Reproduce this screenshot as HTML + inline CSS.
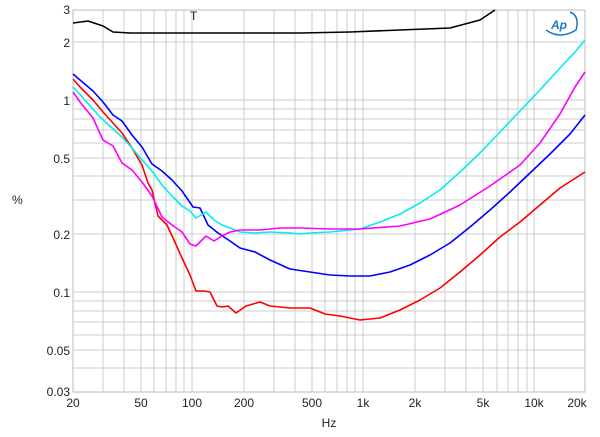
<!DOCTYPE html>
<html><head><style>body{margin:0;background:#fff}svg{display:block}text{font-family:"Liberation Sans",sans-serif;font-size:12px;fill:#222}</style></head><body>
<svg width="600" height="437" viewBox="0 0 600 437">
<rect x="73" y="10" width="512" height="382" fill="#fff" stroke="#bbb"/>
<g stroke="#ccc" stroke-width="1">
<line x1="103" y1="10" x2="103" y2="392"/><line x1="124" y1="10" x2="124" y2="392"/><line x1="141" y1="10" x2="141" y2="392"/><line x1="154" y1="10" x2="154" y2="392"/><line x1="166" y1="10" x2="166" y2="392"/><line x1="176" y1="10" x2="176" y2="392"/><line x1="184" y1="10" x2="184" y2="392"/><line x1="192" y1="10" x2="192" y2="392"/>
<line x1="244" y1="10" x2="244" y2="392"/><line x1="274" y1="10" x2="274" y2="392"/><line x1="295" y1="10" x2="295" y2="392"/><line x1="312" y1="10" x2="312" y2="392"/><line x1="325" y1="10" x2="325" y2="392"/><line x1="337" y1="10" x2="337" y2="392"/><line x1="347" y1="10" x2="347" y2="392"/><line x1="355" y1="10" x2="355" y2="392"/><line x1="363" y1="10" x2="363" y2="392"/>
<line x1="415" y1="10" x2="415" y2="392"/><line x1="445" y1="10" x2="445" y2="392"/><line x1="466" y1="10" x2="466" y2="392"/><line x1="483" y1="10" x2="483" y2="392"/><line x1="497" y1="10" x2="497" y2="392"/><line x1="508" y1="10" x2="508" y2="392"/><line x1="518" y1="10" x2="518" y2="392"/><line x1="527" y1="10" x2="527" y2="392"/><line x1="534" y1="10" x2="534" y2="392"/>
<line x1="73" y1="42" x2="585" y2="42"/><line x1="73" y1="100" x2="585" y2="100"/><line x1="73" y1="109" x2="585" y2="109"/><line x1="73" y1="119" x2="585" y2="119"/><line x1="73" y1="130" x2="585" y2="130"/><line x1="73" y1="143" x2="585" y2="143"/><line x1="73" y1="158" x2="585" y2="158"/><line x1="73" y1="176" x2="585" y2="176"/><line x1="73" y1="200" x2="585" y2="200"/><line x1="73" y1="234" x2="585" y2="234"/><line x1="73" y1="292" x2="585" y2="292"/><line x1="73" y1="301" x2="585" y2="301"/><line x1="73" y1="311" x2="585" y2="311"/><line x1="73" y1="322" x2="585" y2="322"/><line x1="73" y1="335" x2="585" y2="335"/><line x1="73" y1="350" x2="585" y2="350"/><line x1="73" y1="368" x2="585" y2="368"/>
</g>
<g fill="none" stroke-width="1.6" stroke-linejoin="round">
<polyline stroke="#000" points="73,23 88,21 103,26 113,32 130,33 200,33 300,33 350,32 400,30 450,28 480,20 495,10"/>
<polyline stroke="#00f" points="73,74 80,80 93,91 103,102 113,115 122,121 132,135 142,147 152,164 162,171 172,180 182,191 193,207 200,208 208,225 218,233 230,241 240,248 255,252 270,260 290,269 310,272 330,275 350,276 370,276 390,272 410,265 430,255 450,243 470,227 490,210 510,192 530,173 550,154 570,134 585,115"/>
<polyline stroke="#f00" points="73,79 80,87 93,100 103,112 113,123 122,133 132,148 142,165 148,183 152,190 158,216 167,225 174,240 182,258 190,275 196,291 204,291 210,292 217,306 222,307 228,306 236,313 246,306 260,302 270,306 290,308 310,308 325,314 340,316 360,320 380,318 400,310 420,300 440,288 460,272 480,255 500,237 520,222 540,205 560,188 585,172"/>
<polyline stroke="#0ee" points="73,87 85,100 100,117 112,128 122,137 132,148 142,160 152,171 162,185 172,196 182,206 190,211 196,218 206,212 214,220 222,225 230,228 240,232 255,233 270,232 290,233 300,234 310,233 330,232 360,229 380,222 400,214 420,203 440,190 460,172 480,153 500,132 520,111 540,90 560,68 575,52 585,40"/>
<polyline stroke="#f0f" points="73,92 80,102 93,118 103,140 113,146 122,163 132,170 142,182 152,196 162,217 172,225 182,232 190,244 196,246 206,236 214,241 222,236 230,232 240,230 260,230 280,228 300,228 330,229 360,229 400,226 430,219 460,205 490,186 520,165 540,143 560,114 575,87 585,72"/>
</g>
<text x="190" y="20" font-size="11">T</text>
<text x="551" y="29" font-size="17" font-style="italic" font-weight="bold" style="fill:#1a78c2">Ap</text>
<path d="M546,30 Q560,40 576,30 Q580,16 570,12" fill="none" stroke="#1a78c2" stroke-width="1.5"/>
<g text-anchor="end">
<text x="70" y="14">3</text><text x="70" y="47">2</text><text x="70" y="105">1</text><text x="70" y="163">0.5</text><text x="70" y="239">0.2</text><text x="70" y="297">0.1</text><text x="70" y="355">0.05</text><text x="70" y="396">0.03</text>
</g>
<g text-anchor="middle">
<text x="73" y="407">20</text><text x="141" y="407">50</text><text x="192" y="407">100</text><text x="244" y="407">200</text><text x="312" y="407">500</text><text x="363" y="407">1k</text><text x="415" y="407">2k</text><text x="483" y="407">5k</text><text x="534" y="407">10k</text><text x="577" y="407">20k</text>
<text x="329" y="427">Hz</text>
</g>
<text x="12" y="204">%</text>
</svg>
</body></html>
